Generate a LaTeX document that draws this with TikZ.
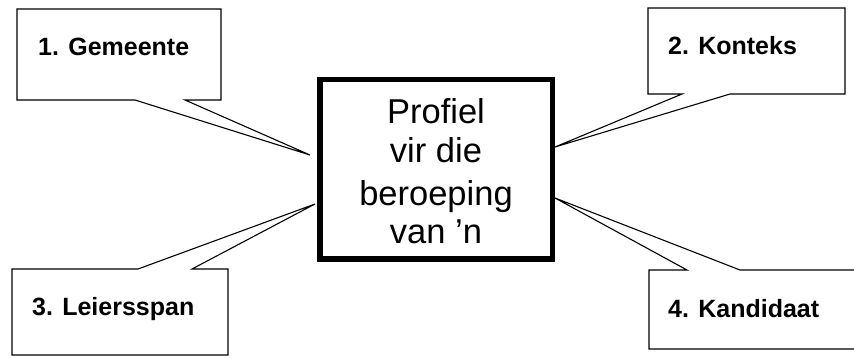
\documentclass[tikz,border=0pt]{standalone}
\usepackage{fontspec}
\setmainfont{Liberation Sans}
\begin{document}
\begin{tikzpicture}[x=1pt,y=-1pt,
  callout/.style={draw=black,fill=white,line width=1.1pt,line join=miter},
  mainbox/.style={draw=black,line width=5.5pt},
  labeltext/.style={anchor=base west,inner sep=0pt,font=\fontsize{25}{30}\selectfont\bfseries},
  maintext/.style={anchor=base,inner sep=0pt,font=\fontsize{34.5}{40}\selectfont}]
\useasboundingbox (0,0) rectangle (854,357);
% central box
\draw[mainbox] (320,79.7) rectangle (552.5,258.8);
\node[maintext] (m1) at (436,123) {Profiel};
\node[maintext] (m2) at (436,162) {vir die};
\node[maintext] (m3) at (436,205) {beroeping};
\node[maintext] (m4) at (436,243) {van ’n};
% callouts
\coordinate (tip1) at (310,155);
\coordinate (tip2) at (555,147);
\coordinate (tip3) at (315,204);
\coordinate (tip4) at (555,198);
\draw[callout] (17,9) -- (221,9) -- (221,100) -- (185,100) -- (tip1) -- (135,100) -- (17,100) -- cycle;
\draw[callout] (648,8) -- (845,8) -- (845,94) -- (730,94) -- (tip2) -- (682,94) -- (648,94) -- cycle;
\draw[callout] (12,269) -- (138,269) -- (tip3) -- (192,269) -- (228,269) -- (228,355) -- (12,355) -- cycle;
\draw[callout] (649,270) -- (687,270) -- (tip4) -- (740,270) -- (860,270) -- (860,349) -- (649,349) -- cycle;
\node[labeltext] (l1) at (38,55) {1. Gemeente};
\node[labeltext] (l2) at (668,54) {2. Konteks};
\node[labeltext] (l3) at (32,315) {3. Leiersspan};
\node[labeltext] (l4) at (668,317) {4. Kandidaat};
\end{tikzpicture}
\end{document}
